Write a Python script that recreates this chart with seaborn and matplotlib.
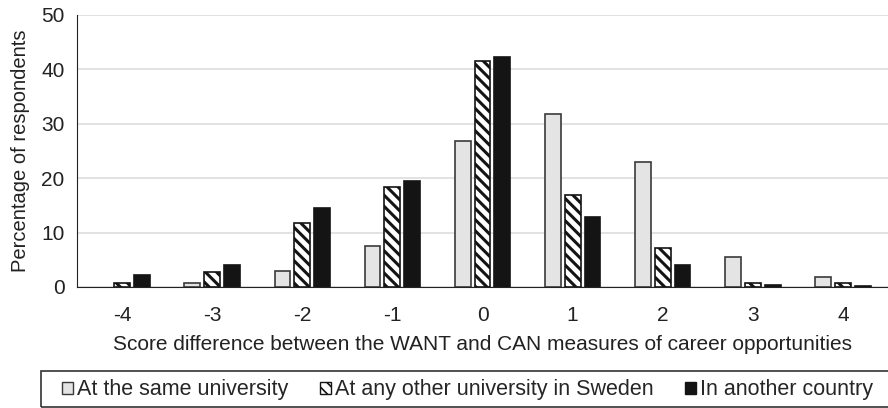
import numpy as np
import pandas as pd
import matplotlib
matplotlib.use("Agg")
import matplotlib.pyplot as plt
import seaborn as sns
from matplotlib.patches import Patch, Rectangle

# data (no bar for "same university" at -4)
scores = ["-4", "-3", "-2", "-1", "0", "1", "2", "3", "4"]
same_uni = [np.nan, 0.8, 3.0, 7.5, 26.9, 31.8, 23.0, 5.6, 1.8]
other_uni = [0.8, 2.7, 11.8, 18.3, 41.5, 17.0, 7.1, 0.7, 0.7]
other_country = [2.2, 4.0, 14.5, 19.4, 42.3, 12.8, 4.0, 0.4, 0.2]
groups = ["At the same university", "At any other university in Sweden", "In another country"]

df = pd.DataFrame({
    "score": scores * 3,
    "pct": same_uni + other_uni + other_country,
    "group": [g for g in groups for _ in scores],
})

sns.set_style("white")
plt.rcParams["font.family"] = ["Liberation Sans", "DejaVu Sans"]
plt.rcParams["hatch.linewidth"] = 2.2

fig = plt.figure(figsize=(8.88, 4.08), dpi=100)
ax = fig.add_axes([77 / 888, 1 - 287 / 408, 811 / 888, 272 / 408])

fills = ["#e4e4e4", "#ffffff", "#141414"]
edges = ["#3a3a3a", "#141414", "#141414"]
hatches = ["", "\\\\\\", ""]

sns.barplot(data=df, x="score", y="pct", hue="group", order=scores, hue_order=groups,
            width=0.66, gap=0.2, ax=ax, legend=False, palette=fills)

for cont, fc, ec, h in zip(ax.containers, fills, edges, hatches):
    for bar in cont:
        bar.set_facecolor(fc)
        bar.set_edgecolor(ec)
        bar.set_linewidth(1.2)
        bar.set_hatch(h)

ax.set_ylim(0, 50)
ax.set_xlim(-0.5, 8.5)
ax.set_yticks(range(0, 51, 10))
ax.yaxis.grid(True, color="#dddddd", linewidth=1.2)
ax.set_axisbelow(True)
for s in ["top", "right"]:
    ax.spines[s].set_visible(False)
ax.spines["left"].set_color("#222222")
ax.spines["bottom"].set_color("#222222")
ax.tick_params(axis="both", length=0, labelsize=15, colors="#222222")
ax.tick_params(axis="y", pad=9)
ax.tick_params(axis="x", pad=14)

ax.set_xlabel("Score difference between the WANT and CAN measures of career opportunities",
              fontsize=15, color="#222222", labelpad=7)
ax.set_ylabel("Percentage of respondents", fontsize=14.5, color="#222222", labelpad=8)

# legend box runs off the right edge in the reference
fig.patches.append(Rectangle((41 / 888, 1 - 407 / 408), 870 / 888, 36 / 408,
                             transform=fig.transFigure, fill=False,
                             edgecolor="#333333", linewidth=1.2))
handles = [Patch(facecolor=fc, edgecolor=ec, hatch=h, linewidth=1.0)
           for fc, ec, h in zip(fills, edges, hatches)]
plt.rcParams["hatch.linewidth"] = 1.2
fig.legend(handles, groups, loc="center left", bbox_to_anchor=(43 / 888, 1 - 390 / 408),
           ncol=3, frameon=False, fontsize=15.5, handlelength=0.5,
           handleheight=0.5, handletextpad=0.2, columnspacing=1.45)

fig.savefig("out.png", dpi=100)
